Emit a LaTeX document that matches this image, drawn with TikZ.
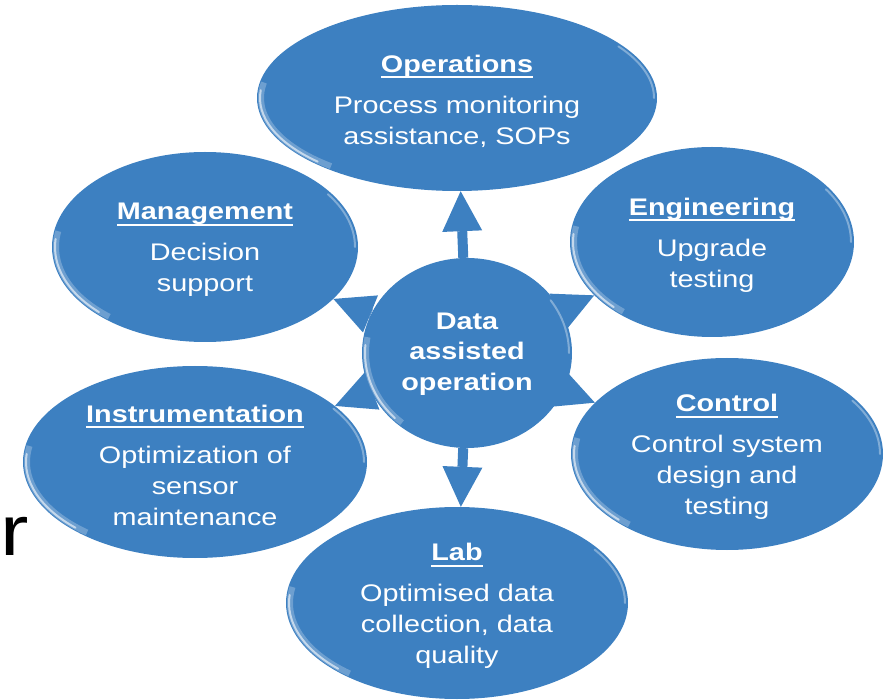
\documentclass[tikz,border=0pt]{standalone}
\usepackage{fontspec}
\setmainfont{Liberation Sans}[FakeStretch=1.2]
\usetikzlibrary{shapes.geometric,arrows.meta,backgrounds}

\definecolor{bubblue}{RGB}{61,128,193}
\newcommand\bubfont{\fontsize{24}{31}\selectfont}
\newcommand\hd[1]{\textbf{\setbox0\hbox{#1}\rlap{\rule[-6pt]{\wd0}{2pt}}\box0}}

\tikzset{bub/.style 2 args={
  ellipse,fill=bubblue,inner sep=0pt,
  minimum width=2*#1,minimum height=2*#2,
  path picture={
    \draw[white,opacity=.25,line width=6pt]
      (path picture bounding box.center) ++(130:{#1-4} and {#2-4})
      arc[start angle=130,end angle=190,x radius={#1-4},y radius={#2-4}];
    \draw[white,opacity=.6,line width=2pt,line cap=round]
      (path picture bounding box.center) ++(135:{#1-3} and {#2-3})
      arc[start angle=135,end angle=185,x radius={#1-3},y radius={#2-3}];
    \draw[white,opacity=.35,line width=2pt,line cap=round]
      (path picture bounding box.center) ++(-35:{#1-3} and {#2-3})
      arc[start angle=-35,end angle=0,x radius={#1-3},y radius={#2-3}];
  }}}
\tikzstyle{bubtxt}=[text=white,align=center,font=\bubfont,inner sep=0pt,
  yshift=-3pt]
\tikzstyle{radarr}=[draw=bubblue,line width=10pt,
  -{Triangle[length=40pt,width=40pt,line width=0pt]}]

\begin{document}
\begin{tikzpicture}[x=1pt,y=-1pt]
\useasboundingbox (0,0) rectangle (884,700);

\node[bub={105}{95}] (dao) at (467,353) {};
\node[bub={200}{93}] (op) at (457,98) {};
\node[bub={142}{95}] (eng) at (712,242) {};
\node[bub={156}{96}] (ctrl) at (727,454) {};
\node[bub={171}{96}] (lab) at (457,603) {};
\node[bub={172}{96}] (instr) at (195,462) {};
\node[bub={153}{95}] (mgmt) at (205,247) {};

\begin{scope}[on background layer]
\foreach \b in {op,eng,ctrl,lab,instr,mgmt}
  \draw[radarr] (dao) -- (\b);
\end{scope}

\node[bubtxt,yshift=2pt,font=\fontsize{24}{30.5}\selectfont\bfseries] (dao-t)
  at (dao) {Data\\assisted\\operation};
\node[bubtxt] (op-t) at (op)
  {\hd{Operations}\\[10pt]Process monitoring\\assistance, SOPs};
\node[bubtxt] (eng-t) at (eng)
  {\hd{Engineering}\\[10pt]Upgrade\\testing};
\node[bubtxt] (ctrl-t) at (ctrl)
  {\hd{Control}\\[10pt]Control system\\design and\\testing};
\node[bubtxt] (lab-t) at (lab)
  {\hd{Lab}\\[10pt]Optimised data\\collection, data\\quality};
\node[bubtxt] (instr-t) at (instr)
  {\hd{Instrumentation}\\[10pt]Optimization of\\sensor\\maintenance};
\node[bubtxt] (mgmt-t) at (mgmt)
  {\hd{Management}\\[10pt]Decision\\support};

\node[anchor=base west,inner sep=0pt,font=\fontsize{71}{71}\selectfont]
  (r) at (0,555) {r};
\end{tikzpicture}
\end{document}
